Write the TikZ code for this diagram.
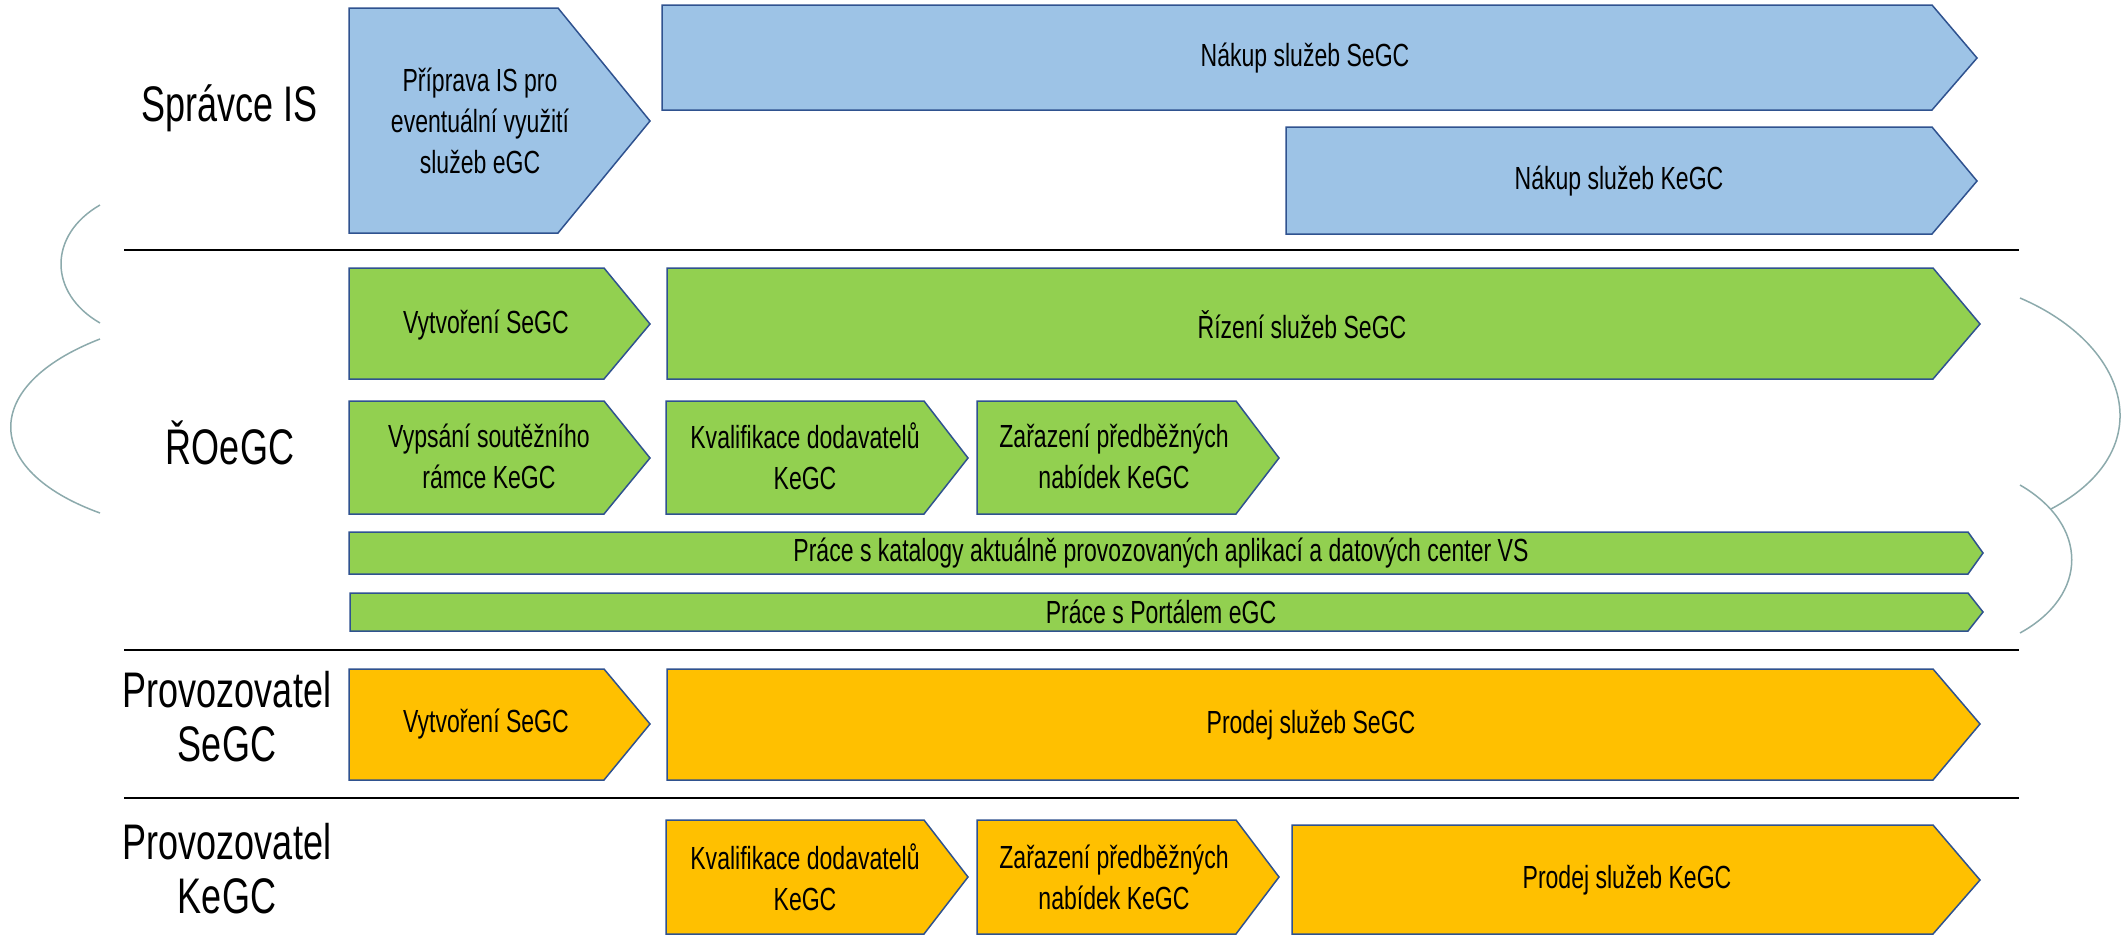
\documentclass[tikz,border=0pt]{standalone}
\usepackage{fontspec}
\setmainfont{Liberation Sans}[FakeStretch=0.72]

\tikzset{every picture/.style={line width=0.75pt}}
\tikzset{
  bluebox/.style={draw={rgb, 255:red, 47; green, 82; blue, 143 }, fill={rgb, 255:red, 157; green, 195; blue, 230 }, fill opacity=1},
  greenbox/.style={draw={rgb, 255:red, 47; green, 82; blue, 143 }, fill={rgb, 255:red, 146; green, 208; blue, 80 }, fill opacity=1},
  orangebox/.style={draw={rgb, 255:red, 47; green, 82; blue, 143 }, fill={rgb, 255:red, 255; green, 192; blue, 0 }, fill opacity=1},
  boxtext/.style={anchor=center, align=center, inner sep=0.75pt, font=\fontsize{16}{20.5}\selectfont},
  lanelabel/.style={anchor=center, align=center, inner sep=0.75pt, font=\fontsize{25}{27}\selectfont},
  sepline/.style={line width=1pt, draw=black},
  bracecurve/.style={draw={rgb, 255:red, 140; green, 170; blue, 172 }, line width=0.75pt}
}

\begin{document}
\begin{tikzpicture}[x=0.5pt,y=0.5pt,yscale=-1,xscale=1]
\useasboundingbox (0,0) rectangle (2122,937);

%Straight Lines (lane separators)
\draw [sepline] (124,250) -- (2019,250) ;
\draw [sepline] (124,650) -- (2019,650) ;
\draw [sepline] (124,798) -- (2019,798) ;

%Curve Lines (left)
\draw [bracecurve] (100,205) .. controls (48,235) and (48,293) .. (100,323) ;
\draw [bracecurve] (100,339) .. controls (-19,385) and (-19,470) .. (100,513) ;
%Curve Lines (right)
\draw [bracecurve] (2020,298) .. controls (2130,345) and (2162,450) .. (2051,509) ;
\draw [bracecurve] (2020,485) .. controls (2089,525) and (2089,595) .. (2020,633) ;

%Shape: Pentagon - Spravce IS
\draw [bluebox] (349,8) -- (558,8) -- (650,121) -- (558,233) -- (349,233) -- cycle ;
\draw [bluebox] (662,5) -- (1932,5) -- (1977,58) -- (1932,110) -- (662,110) -- cycle ;
\draw [bluebox] (1286,127) -- (1932,127) -- (1977,181) -- (1932,234) -- (1286,234) -- cycle ;

%Shape: Pentagon - ROeGC
\draw [greenbox] (349,268) -- (604,268) -- (650,324) -- (604,379) -- (349,379) -- cycle ;
\draw [greenbox] (667,268) -- (1933,268) -- (1980,324) -- (1933,379) -- (667,379) -- cycle ;
\draw [greenbox] (349,401) -- (604,401) -- (650,458) -- (604,514) -- (349,514) -- cycle ;
\draw [greenbox] (666,401) -- (924,401) -- (968,458) -- (924,514) -- (666,514) -- cycle ;
\draw [greenbox] (977,401) -- (1236,401) -- (1279,458) -- (1236,514) -- (977,514) -- cycle ;
\draw [greenbox] (349,532) -- (1968,532) -- (1983,553) -- (1968,574) -- (349,574) -- cycle ;
\draw [greenbox] (350,593) -- (1968,593) -- (1983,612) -- (1968,631) -- (350,631) -- cycle ;

%Shape: Pentagon - Provozovatel SeGC
\draw [orangebox] (349,669) -- (604,669) -- (650,724) -- (604,780) -- (349,780) -- cycle ;
\draw [orangebox] (667,669) -- (1933,669) -- (1980,724) -- (1933,780) -- (667,780) -- cycle ;

%Shape: Pentagon - Provozovatel KeGC
\draw [orangebox] (666,820) -- (924,820) -- (968,877) -- (924,934) -- (666,934) -- cycle ;
\draw [orangebox] (977,820) -- (1236,820) -- (1279,877) -- (1236,934) -- (977,934) -- cycle ;
\draw [orangebox] (1292,825) -- (1933,825) -- (1980,880) -- (1933,934) -- (1292,934) -- cycle ;

% Text Node
\draw (230,108) node [lanelabel] (lblSpravce) {Správce IS};
% Text Node
\draw (230,443) node [lanelabel] (lblRoegc) {ŘOeGC};
% Text Node
\draw (227,717) node [lanelabel] (lblProvSegc) {Provozovatel\\SeGC};
% Text Node
\draw (227,869) node [lanelabel] (lblProvKegc) {Provozovatel\\KeGC};

% Text Node
\draw (480,121) node [boxtext] (txtPriprava) {Příprava IS pro\\eventuální využití\\služeb eGC};
% Text Node
\draw (1305,58) node [boxtext] (txtNakupSegc) {Nákup služeb SeGC};
% Text Node
\draw (1619,181) node [boxtext] (txtNakupKegc) {Nákup služeb KeGC};

% Text Node
\draw (486,325) node [boxtext] (txtVytvoreniA) {Vytvoření SeGC};
% Text Node
\draw (1302,325) node [boxtext] (txtRizeni) {Řízení služeb SeGC};
% Text Node
\draw (489,456) node [boxtext] (txtVypsani) {Vypsání soutěžního\\rámce KeGC};
% Text Node
\draw (805,456) node [boxtext] (txtKvalifA) {Kvalifikace dodavatelů\\KeGC};
% Text Node
\draw (1114,456) node [boxtext] (txtZarazeniA) {Zařazení předběžných\\nabídek KeGC};
% Text Node
\draw (1161,553) node [boxtext] (txtKatalogy) {Práce s katalogy aktuálně provozovaných aplikací a datových center VS};
% Text Node
\draw (1161,612) node [boxtext] (txtPortal) {Práce s Portálem eGC};

% Text Node
\draw (486,724) node [boxtext] (txtVytvoreniB) {Vytvoření SeGC};
% Text Node
\draw (1311,725) node [boxtext] (txtProdejSegc) {Prodej služeb SeGC};
% Text Node
\draw (805,877) node [boxtext] (txtKvalifB) {Kvalifikace dodavatelů\\KeGC};
% Text Node
\draw (1114,877) node [boxtext] (txtZarazeniB) {Zařazení předběžných\\nabídek KeGC};
% Text Node
\draw (1627,880) node [boxtext] (txtProdejKegc) {Prodej služeb KeGC};

\end{tikzpicture}
\end{document}
